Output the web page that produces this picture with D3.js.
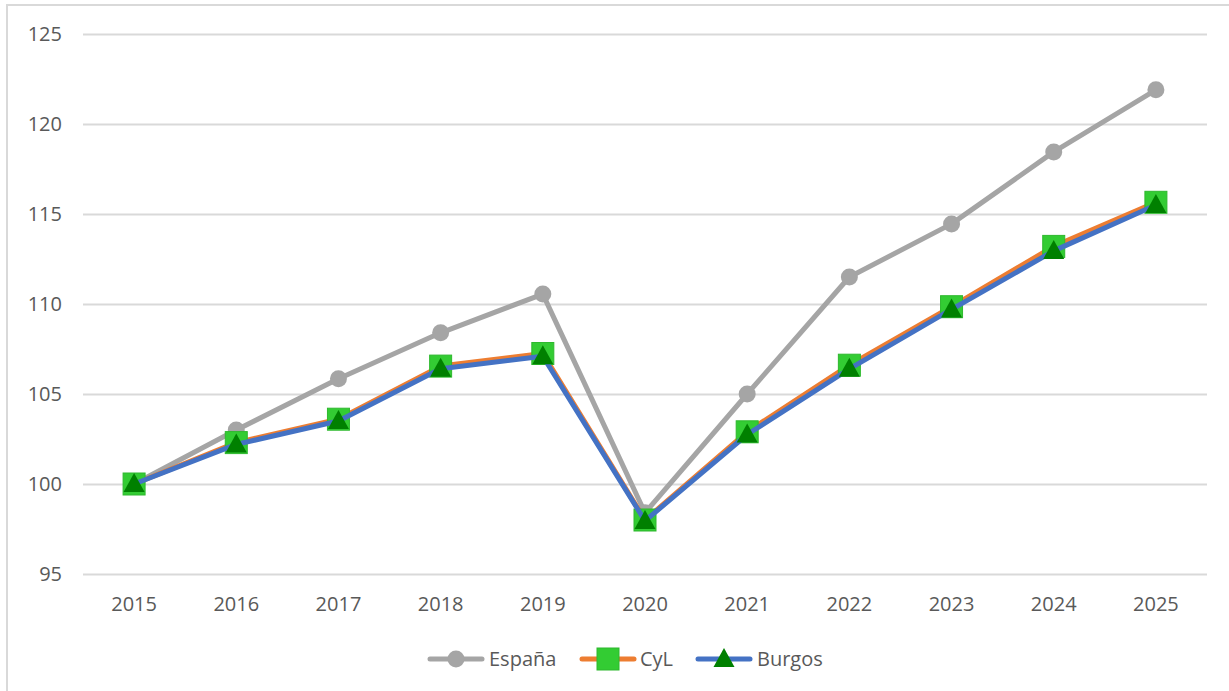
<!DOCTYPE html>
<html>
<head>
<meta charset="utf-8">
<script src="https://cdn.jsdelivr.net/npm/d3@7"></script>
<style>
  html, body { margin: 0; padding: 0; background: #fff; }
  svg { display: block; }
  text { font-family: "Open Sans", "Liberation Sans", sans-serif; }
</style>
</head>
<body>
<svg id="chart" width="1229" height="691"></svg>
<script>
const years = ["2015","2016","2017","2018","2019","2020","2021","2022","2023","2024","2025"];
const espana = [100, 103.0, 105.85, 108.4, 110.55, 98.4, 105.0, 111.5, 114.45, 118.45, 121.9];
const cyl    = [100, 102.3, 103.6, 106.55, 107.25, 98.0, 102.9, 106.6, 109.85, 113.2, 115.65];
const burgos = [100, 102.2, 103.5, 106.4, 107.1, 97.95, 102.75, 106.4, 109.7, 112.95, 115.5];
const yTicks = [95, 100, 105, 110, 115, 120, 125];
const seriesNames = ["España", "CyL", "Burgos"];

const svg = d3.select("#chart");
const W = 1229, H = 691;

// chart area border
svg.append("rect").attr("x", 7).attr("y", 5).attr("width", W + 10).attr("height", H + 10)
  .attr("fill", "#fff").attr("stroke", "#d9d9d9").attr("stroke-width", 2);

const mLeft = 83, mRight = 1207, mTop = 34, mBottom = 574;
const x = d3.scaleBand().domain(years).range([mLeft, mRight]);
const y = d3.scaleLinear().domain([95, 125]).range([mBottom, mTop]);
const cx = d => x(d) + x.bandwidth() / 2;

// gridlines
const yAxis = d3.axisLeft(y).tickValues(yTicks).tickSize(-(mRight - mLeft)).tickPadding(21).tickFormat(d3.format("d"));
const gy = svg.append("g").attr("transform", `translate(${mLeft},0)`).call(yAxis);
gy.select(".domain").remove();
gy.selectAll(".tick line").attr("stroke", "#d9d9d9").attr("stroke-width", 2);
gy.selectAll(".tick text").attr("fill", "#595959").style("font-size", "20px");

// x axis labels
const xAxis = d3.axisBottom(x).tickSize(0).tickPadding(23);
const gx = svg.append("g").attr("transform", `translate(0,${mBottom})`).call(xAxis);
gx.select(".domain").remove();
gx.selectAll(".tick text").attr("fill", "#595959").style("font-size", "20px");

const line = d3.line().x((d, i) => cx(years[i])).y(d => y(d));

const styles = [
  { data: espana, color: "#a5a5a5", marker: "circle" },
  { data: cyl, color: "#ed7d31", marker: "square" },
  { data: burgos, color: "#4472c4", marker: "triangle" }
];

function drawMarker(g, type, px, py) {
  if (type === "circle") {
    g.append("circle").attr("cx", px).attr("cy", py).attr("r", 8.5).attr("fill", "#a5a5a5");
  } else if (type === "square") {
    g.append("rect").attr("x", px - 11).attr("y", py - 11).attr("width", 22).attr("height", 22)
      .attr("fill", "#33cc33").attr("stroke", "#2eb82e").attr("stroke-width", 1);
  } else {
    g.append("path").attr("d", `M${px},${py - 11} L${px + 10.5},${py + 8} L${px - 10.5},${py + 8} Z`)
      .attr("fill", "#008000");
  }
}

styles.forEach(s => {
  const g = svg.append("g");
  g.append("path").datum(s.data).attr("d", line).attr("fill", "none")
    .attr("stroke", s.color).attr("stroke-width", 5).attr("stroke-linejoin", "round").attr("stroke-linecap", "round");
  s.data.forEach((v, i) => drawMarker(g, s.marker, cx(years[i]), y(v)));
});

// legend
const legendY = 659;
const legendItems = [
  { lx: 430, tx: 489 },
  { lx: 582, tx: 640 },
  { lx: 698, tx: 757 }
];
legendItems.forEach((it, i) => {
  const g = svg.append("g");
  g.append("line").attr("x1", it.lx).attr("x2", it.lx + 52).attr("y1", legendY).attr("y2", legendY)
    .attr("stroke", styles[i].color).attr("stroke-width", 5).attr("stroke-linecap", "round");
  drawMarker(g, styles[i].marker, it.lx + 26, legendY);
  g.append("text").attr("x", it.tx).attr("y", legendY).attr("dy", "0.35em")
    .attr("fill", "#595959").style("font-size", "20px").text(seriesNames[i]);
});
</script>
</body>
</html>
